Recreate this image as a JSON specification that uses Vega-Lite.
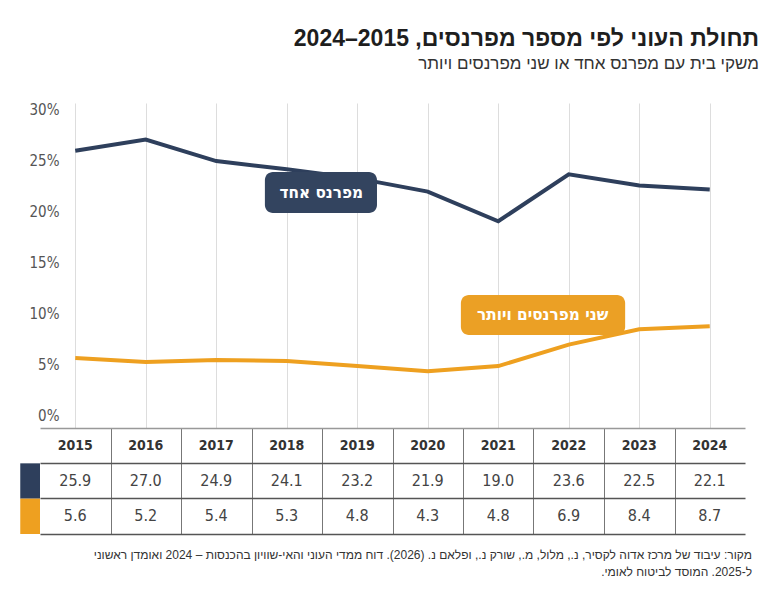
{
  "$schema": "https://vega.github.io/schema/vega-lite/v6.json",
  "background": "white",
  "padding": {"left": 20, "top": 28, "right": 10, "bottom": 10},
  "config": {"view": {"stroke": null}, "font": "Liberation Sans"},
  "bounds": "flush",
  "spacing": 0,
  "title": {
    "text": "\u200fתחולת העוני לפי מספר מפרנסים, 2015–2024\u200f",
    "subtitle": "\u200fמשקי בית עם מפרנס אחד או שני מפרנסים ויותר\u200f",
    "anchor": "end",
    "dx": 7,
    "font": "Liberation Sans",
    "fontSize": 23,
    "fontWeight": "bold",
    "color": "#1e1e1e",
    "subtitleFont": "Liberation Sans",
    "subtitleFontSize": 17,
    "subtitleColor": "#333333",
    "subtitlePadding": 5,
    "offset": 30
  },
  "datasets": {
    "poverty": [
      {"year": 2015, "series": "מפרנס אחד", "value": 25.9},
      {"year": 2016, "series": "מפרנס אחד", "value": 27.0},
      {"year": 2017, "series": "מפרנס אחד", "value": 24.9},
      {"year": 2018, "series": "מפרנס אחד", "value": 24.1},
      {"year": 2019, "series": "מפרנס אחד", "value": 23.2},
      {"year": 2020, "series": "מפרנס אחד", "value": 21.9},
      {"year": 2021, "series": "מפרנס אחד", "value": 19.0},
      {"year": 2022, "series": "מפרנס אחד", "value": 23.6},
      {"year": 2023, "series": "מפרנס אחד", "value": 22.5},
      {"year": 2024, "series": "מפרנס אחד", "value": 22.1},
      {"year": 2015, "series": "שני מפרנסים ויותר", "value": 5.6},
      {"year": 2016, "series": "שני מפרנסים ויותר", "value": 5.2},
      {"year": 2017, "series": "שני מפרנסים ויותר", "value": 5.4},
      {"year": 2018, "series": "שני מפרנסים ויותר", "value": 5.3},
      {"year": 2019, "series": "שני מפרנסים ויותר", "value": 4.8},
      {"year": 2020, "series": "שני מפרנסים ויותר", "value": 4.3},
      {"year": 2021, "series": "שני מפרנסים ויותר", "value": 4.8},
      {"year": 2022, "series": "שני מפרנסים ויותר", "value": 6.9},
      {"year": 2023, "series": "שני מפרנסים ויותר", "value": 8.4},
      {"year": 2024, "series": "שני מפרנסים ויותר", "value": 8.7}
    ]
  },
  "vconcat": [
    {
      "width": 705,
      "height": 325,
      "layer": [
        {
          "data": {"name": "poverty"},
          "mark": {"type": "line", "strokeWidth": 4},
          "encoding": {
            "x": {
              "field": "year", "type": "quantitative",
              "scale": {"domain": [2014.5, 2024.5], "nice": false, "zero": false},
              "axis": {"values": [2015, 2016, 2017, 2018, 2019, 2020, 2021, 2022, 2023, 2024], "grid": true, "gridColor": "#dddddd", "gridWidth": 1, "labels": false, "ticks": false, "domain": false, "title": null}
            },
            "y": {
              "field": "value", "type": "quantitative",
              "scale": {"domain": [-1.27, 30.59], "nice": false, "zero": false},
              "axis": {"values": [0, 5, 10, 15, 20, 25, 30], "labelExpr": "datum.value + '%'", "labelFont": "DejaVu Sans Condensed, Liberation Sans, sans-serif", "labelFontSize": 15, "labelColor": "#555555", "domain": false, "ticks": false, "grid": false, "offset": -19, "labelPadding": 0, "title": null}
            },
            "color": {
              "field": "series", "type": "nominal",
              "scale": {"domain": ["מפרנס אחד", "שני מפרנסים ויותר"], "range": ["#2e3f5c", "#eea020"]},
              "legend": null
            }
          }
        },
        {
          "data": {"values": [{"label": "מפרנס אחד"}]},
          "mark": {"type": "rect", "cornerRadius": 8, "color": "#33445f"},
          "encoding": {
            "x": {"datum": 2017.69}, "x2": {"datum": 2019.28},
            "y": {"datum": 23.82}, "y2": {"datum": 19.8}
          }
        },
        {
          "data": {"values": [{"label": "מפרנס אחד"}]},
          "mark": {"type": "text", "color": "white", "fontSize": 17, "fontWeight": "bold", "font": "DejaVu Sans Condensed, Liberation Sans, sans-serif", "align": "center", "baseline": "middle"},
          "encoding": {
            "x": {"datum": 2018.49}, "y": {"datum": 21.81},
            "text": {"field": "label"}
          }
        },
        {
          "data": {"values": [{"label": "שני מפרנסים ויותר"}]},
          "mark": {"type": "rect", "cornerRadius": 8, "color": "#eba025"},
          "encoding": {
            "x": {"datum": 2020.47}, "x2": {"datum": 2022.8},
            "y": {"datum": 11.76}, "y2": {"datum": 7.84}
          }
        },
        {
          "data": {"values": [{"label": "שני מפרנסים ויותר"}]},
          "mark": {"type": "text", "color": "white", "fontSize": 17, "fontWeight": "bold", "font": "DejaVu Sans Condensed, Liberation Sans, sans-serif", "align": "center", "baseline": "middle"},
          "encoding": {
            "x": {"datum": 2021.63}, "y": {"datum": 9.8},
            "text": {"field": "label"}
          }
        }
      ]
    },
    {
      "width": 705,
      "height": 106,
      "title": {
        "text": ["\u200fמקור: עיבוד של מרכז אדוה לקסיר, נ., מלול, מ., שורק נ., ופלאם נ. (2026). דוח ממדי העוני והאי-שוויון בהכנסות – 2024 ואומדן ראשוני\u200f", "\u200fל-2025. המוסד לביטוח לאומי.\u200f"],
        "orient": "bottom",
        "anchor": "end",
        "dx": 7,
        "offset": 16,
        "font": "Liberation Sans",
        "fontSize": 12,
        "fontWeight": "normal",
        "color": "#333333",
        "lineHeight": 17
      },
      "data": {"name": "poverty"},
      "encoding": {
        "x": {
          "field": "year", "type": "quantitative",
          "scale": {"domain": [2014.5, 2024.5], "nice": false, "zero": false},
          "axis": {"values": [2015.5, 2016.5, 2017.5, 2018.5, 2019.5, 2020.5, 2021.5, 2022.5, 2023.5], "grid": true, "gridColor": "#777777", "gridWidth": 1, "labels": false, "ticks": false, "domain": true, "domainColor": "#555555", "domainWidth": 1.5, "title": null}
        }
      },
      "layer": [
        {
          "mark": {"type": "text", "font": "DejaVu Sans Condensed, Liberation Sans, sans-serif", "fontSize": 16, "color": "#444444", "baseline": "middle"},
          "encoding": {
            "y": {
              "field": "series", "type": "nominal",
              "scale": {"type": "band", "domain": ["שנה", "מפרנס אחד", "שני מפרנסים ויותר"], "paddingInner": 0, "paddingOuter": 0},
              "axis": {"grid": true, "bandPosition": 0, "gridColor": {"condition": {"test": "datum.value === 'שנה'", "value": "#999999"}, "value": "#555555"}, "gridWidth": 1.5, "labels": false, "ticks": false, "domain": false, "title": null}
            },
            "text": {"field": "value", "type": "quantitative", "format": ".1f"}
          }
        },
        {
          "transform": [{"filter": "datum.series === 'מפרנס אחד'"}],
          "mark": {"type": "text", "font": "DejaVu Sans Condensed, Liberation Sans, sans-serif", "fontSize": 14, "fontWeight": "bold", "color": "#333333", "baseline": "middle"},
          "encoding": {
            "y": {"datum": "שנה"},
            "text": {"field": "year", "type": "ordinal"}
          }
        },
        {
          "transform": [{"filter": "datum.year === 2015"}],
          "mark": {"type": "rect"},
          "encoding": {
            "x": {"datum": 2014.22}, "x2": {"datum": 2014.5},
            "y": {"field": "series", "type": "nominal"},
            "color": {
              "field": "series", "type": "nominal",
              "scale": {"domain": ["מפרנס אחד", "שני מפרנסים ויותר"], "range": ["#2e3f5c", "#eea020"]},
              "legend": null
            }
          }
        }
      ]
    }
  ]
}
